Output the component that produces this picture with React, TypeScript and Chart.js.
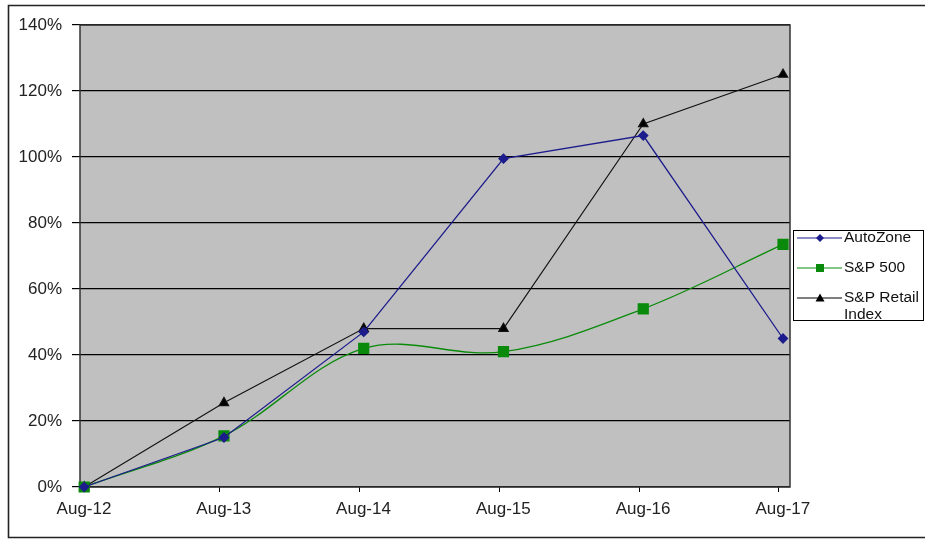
import { useEffect, useRef } from "react";
import { Chart, registerables } from "chart.js";

Chart.register(...registerables);

// data (percent return since Aug-12)
const periods = ["Aug-12", "Aug-13", "Aug-14", "Aug-15", "Aug-16", "Aug-17"];
const autoZone = [0, 15, 47, 99.5, 106.5, 45];
const sp500 = [0, 15.5, 42, 41, 54, 73.5];
const spRetail = [0, 25.5, 48, 48, 110, 125];
const yTicks = [0, 20, 40, 60, 80, 100, 120, 140];
// points sit a little after the period tick (date axis in the original)
const pointOffset = 0.03;

const FONT = "'Liberation Sans', Arial, sans-serif";

type LegendItem = { lines: string[]; color: string; style: string; size: number };

const legendItems: LegendItem[] = [
  { lines: ["AutoZone"], color: "#1c1c8c", style: "rectRot", size: 4 },
  { lines: ["S&P 500"], color: "#0a8a0a", style: "rect", size: 4 },
  { lines: ["S&P Retail", "Index"], color: "#000000", style: "triangle", size: 4.5 },
];

function marker(ctx: CanvasRenderingContext2D, style: string, x: number, y: number, r: number, color: string) {
  ctx.save();
  ctx.fillStyle = color;
  ctx.beginPath();
  if (style === "rectRot") {
    ctx.moveTo(x, y - r);
    ctx.lineTo(x + r, y);
    ctx.lineTo(x, y + r);
    ctx.lineTo(x - r, y);
  } else if (style === "rect") {
    ctx.rect(x - r, y - r, r * 2, r * 2);
  } else {
    ctx.moveTo(x, y - r);
    ctx.lineTo(x + r, y + r * 0.8);
    ctx.lineTo(x - r, y + r * 0.8);
  }
  ctx.closePath();
  ctx.fill();
  ctx.restore();
}

const framePlugin = {
  id: "frame",
  beforeDraw(chart: Chart) {
    const { ctx, chartArea, width, height } = chart;
    ctx.save();
    ctx.fillStyle = "#ffffff";
    ctx.fillRect(0, 0, width, height);
    // outer box (right edge runs off the picture)
    ctx.strokeStyle = "#222222";
    ctx.lineWidth = 1.6;
    ctx.beginPath();
    ctx.moveTo(width, 5.5);
    ctx.lineTo(8.5, 5.5);
    ctx.lineTo(8.5, 537.5);
    ctx.lineTo(width, 537.5);
    ctx.stroke();
    ctx.fillStyle = "#c0c0c0";
    ctx.fillRect(chartArea.left, chartArea.top, chartArea.width, chartArea.height);
    ctx.restore();
  },
  beforeDatasetsDraw(chart: Chart) {
    const { ctx, chartArea } = chart;
    ctx.save();
    ctx.strokeStyle = "#333333";
    ctx.lineWidth = 1.5;
    ctx.strokeRect(chartArea.left, chartArea.top, chartArea.width, chartArea.height);
    ctx.restore();
  },
  afterDraw(chart: Chart) {
    const { ctx } = chart;
    const box = { x: 793.5, y: 230.5, w: 130, h: 90 };
    ctx.save();
    ctx.fillStyle = "#ffffff";
    ctx.fillRect(box.x, box.y, box.w, box.h);
    ctx.strokeStyle = "#000000";
    ctx.lineWidth = 1;
    ctx.strokeRect(box.x, box.y, box.w, box.h);
    ctx.font = `15.5px ${FONT}`;
    ctx.textBaseline = "middle";
    const rows = [238, 268, 298];
    legendItems.forEach((item, i) => {
      const y = rows[i];
      ctx.strokeStyle = item.color;
      ctx.lineWidth = 1.2;
      ctx.beginPath();
      ctx.moveTo(797, y);
      ctx.lineTo(842, y);
      ctx.stroke();
      marker(ctx, item.style, 820, y, item.size, item.color);
      ctx.fillStyle = "#111111";
      item.lines.forEach((line, j) => ctx.fillText(line, 844, y + j * 17));
    });
    ctx.restore();
  },
};

export default function App() {
  const canvasRef = useRef<HTMLCanvasElement>(null);
  const chartRef = useRef<Chart | null>(null);

  useEffect(() => {
    if (!canvasRef.current) return;
    if (chartRef.current) chartRef.current.destroy();

    const toPoints = (values: number[]) => values.map((y, i) => ({ x: i + pointOffset, y }));

    chartRef.current = new Chart(canvasRef.current, {
      type: "line",
      data: {
        datasets: [
          {
            label: "AutoZone",
            data: toPoints(autoZone),
            borderColor: "#1c1c8c",
            backgroundColor: "#1c1c8c",
            borderWidth: 1.3,
            pointStyle: "rectRot",
            pointRadius: 4.5,
            tension: 0,
            clip: false,
          },
          {
            label: "S&P 500",
            data: toPoints(sp500),
            borderColor: "#0a8a0a",
            backgroundColor: "#0a8a0a",
            borderWidth: 1.3,
            pointStyle: "rect",
            pointRadius: 7,
            tension: 0.35,
            clip: false,
          },
          {
            label: "S&P Retail Index",
            data: toPoints(spRetail),
            borderColor: "#111111",
            backgroundColor: "#000000",
            borderWidth: 1.1,
            pointStyle: "triangle",
            pointRadius: 5.5,
            tension: 0,
            clip: false,
          },
        ],
      },
      options: {
        responsive: true,
        maintainAspectRatio: false,
        animation: false,
        layout: { padding: { left: 8, top: 25, right: 135, bottom: 0 } },
        plugins: {
          legend: { display: false },
          tooltip: { enabled: false },
        },
        scales: {
          x: {
            type: "linear",
            min: 0,
            max: 5.08,
            afterFit: (s: any) => {
              s.height = 52;
            },
            afterBuildTicks: (s: any) => {
              s.ticks = periods.map((_, i) => ({ value: i }));
            },
            grid: {
              drawOnChartArea: false,
              drawTicks: true,
              tickLength: 5,
              color: "#000000",
            },
            border: { display: false },
            ticks: {
              padding: 7,
              labelOffset: 4,
              maxRotation: 0,
              autoSkip: false,
              color: "#222222",
              font: { family: FONT, size: 17 },
              callback: (v: any) => periods[Math.round(Number(v))] ?? "",
            },
          },
          y: {
            min: 0,
            max: 140,
            afterFit: (s: any) => {
              s.width = 72;
            },
            afterBuildTicks: (s: any) => {
              s.ticks = yTicks.map((value) => ({ value }));
            },
            grid: {
              color: "#000000",
              lineWidth: 1.2,
              drawTicks: true,
              tickLength: 8,
            },
            border: { display: false },
            ticks: {
              padding: 10,
              color: "#222222",
              font: { family: FONT, size: 17 },
              callback: (v: any) => `${v}%`,
            },
          },
        },
      },
      plugins: [framePlugin],
    });

    return () => {
      if (chartRef.current) {
        chartRef.current.destroy();
        chartRef.current = null;
      }
    };
  }, []);

  return (
    <div style={{ position: "fixed", left: 0, top: 0, width: 925, height: 539 }}>
      <canvas ref={canvasRef}></canvas>
    </div>
  );
}
